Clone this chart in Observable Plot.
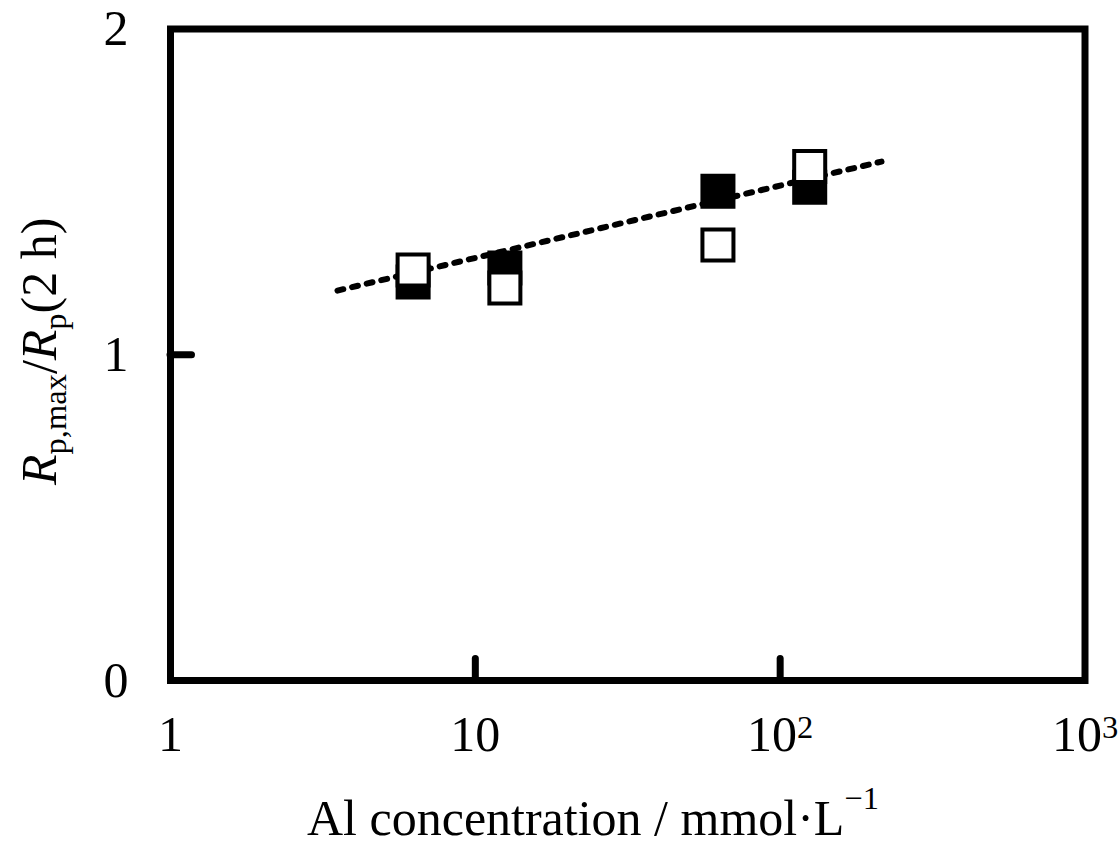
<!DOCTYPE html>
<html><head><meta charset="utf-8">
<script src="https://cdn.jsdelivr.net/npm/d3@7"></script>
<script src="https://cdn.jsdelivr.net/npm/@observablehq/plot@0.6"></script>
<style>body{margin:0;background:#fff} svg{display:block}</style>
</head><body><div id="chart"></div>
<script>
const concentration = [6.25, 12.5, 62.5, 125];
const ratioFilled = [1.223, 1.266, 1.502, 1.514];
const ratioOpen = [1.260, 1.205, 1.337, 1.578];
const trendX = [3.53, 215];
const trendY = [1.197, 1.593];
const xTicks = [1, 10, 100, 1000];
const xTickLabels = ["1", "10", "10^2", "10^3"];
const yTicks = [0, 1, 2];
const yTickLabels = ["0", "1", "2"];
const xInnerTicks = [10, 100];
const yInnerTicks = [1];

const W = 1119, H = 846;
const mL = 170, mR = 34.5, mT = 28.5, mB = 166;
const plotW = W - mL - mR, plotH = H - mT - mB;
const FONT = "'Liberation Serif', 'Times New Roman', Times, serif";

const svg = Plot.plot({
  width: W, height: H,
  marginLeft: mL, marginRight: mR, marginTop: mT, marginBottom: mB,
  style: {fontFamily: FONT, fontSize: "50px", color: "black", background: "white"},
  x: {type: "log", domain: [1, 1000]},
  y: {domain: [0, 2]},
  marks: [
    Plot.line(trendX.map((x, i) => [x, trendY[i]]), {stroke: "black", strokeWidth: 6, strokeDasharray: "6,9"}),
    Plot.dot(concentration, {x: d => d, y: (d, i) => ratioFilled[i], symbol: "square", r: 17.5, fill: "black", stroke: "black", strokeWidth: 4}),
    Plot.dot(concentration, {x: d => d, y: (d, i) => ratioOpen[i], symbol: "square", r: 17.5, fill: "white", stroke: "black", strokeWidth: 4}),
    Plot.tickX(xInnerTicks, {x: d => d, stroke: "black", strokeWidth: 7, strokeLinecap: "round", insetTop: plotH - 21.5}),
    Plot.tickY(yInnerTicks, {y: d => d, stroke: "black", strokeWidth: 7, strokeLinecap: "round", insetRight: plotW - 21.5}),
    Plot.frame({stroke: "black", strokeWidth: 7}),
    Plot.axisX({ticks: xTicks, tickSize: 0, tickPadding: 35, label: null, fontSize: 50,
      tickFormat: d => xTickLabels[xTicks.indexOf(d)]}),
    Plot.axisY({ticks: yTicks, tickSize: 0, tickPadding: 42, label: null, fontSize: 50,
      tickFormat: d => yTickLabels[yTicks.indexOf(d)]})
  ]
});

const s = d3.select(svg);
// superscript tick labels
s.selectAll("text").each(function() {
  const t = this.textContent;
  const m = /^(\d+)\^(\d+)$/.exec(t);
  if (m) {
    const el = d3.select(this);
    el.text(null);
    el.append("tspan").text(m[1]);
    el.append("tspan").attr("font-size", "0.65em").attr("dy", "-13").text(m[2]);
  }
});

// y-axis title
const yt = s.append("text")
  .attr("transform", "translate(56,485) rotate(-90)")
  .attr("text-anchor", "start")
  .attr("font-family", FONT).attr("font-size", 50).attr("fill", "black");
yt.append("tspan").attr("font-style", "italic").text("R");
yt.append("tspan").attr("font-size", "0.65em").attr("dy", "10").text("p,max");
yt.append("tspan").attr("dy", "-10").text("/");
yt.append("tspan").attr("font-style", "italic").text("R");
yt.append("tspan").attr("font-size", "0.65em").attr("dy", "10").text("p");
yt.append("tspan").attr("dy", "-10").text("(2 h)");

// x-axis title
const xt = s.append("text")
  .attr("x", 307).attr("y", 835)
  .attr("text-anchor", "start")
  .attr("font-family", FONT).attr("font-size", 50).attr("fill", "black");
xt.append("tspan").text("Al concentration / mmol·L");
xt.append("tspan").attr("font-size", "0.65em").attr("dy", "-26").text("−1");

document.getElementById("chart").appendChild(svg);
</script>
</body></html>
